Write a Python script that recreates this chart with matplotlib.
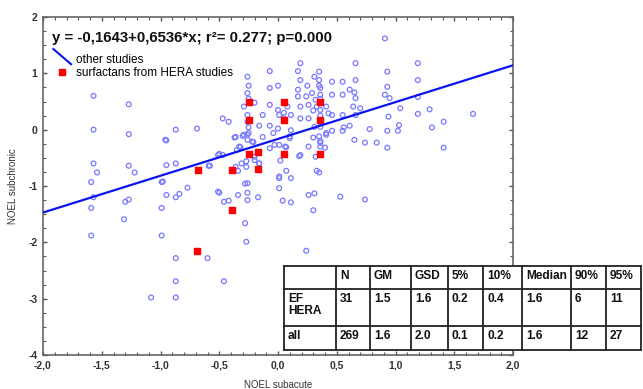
import numpy as np
import matplotlib
matplotlib.use("Agg")
import matplotlib.pyplot as plt
from matplotlib.lines import Line2D
from matplotlib.patches import Rectangle
from matplotlib.legend_handler import HandlerBase
from matplotlib.ticker import MultipleLocator, FuncFormatter

plt.rcParams['font.family'] = ['Liberation Sans', 'DejaVu Sans']

# ---------------- data ----------------
other_x = [-1.57, -1.27, -1.57, -1.27, -0.87, -0.69, -0.95, -1.57, -1.54, -1.27, -1.22, -0.87, -0.95,
           -1.59, -0.99, -1.57, -0.77, -0.95, -0.87, -0.84, -1.27, -1.30, -1.59, -0.99, -1.31, -1.59,
           -0.99, -0.87, -0.87, -1.08, -0.87,
           -0.60, -0.46, -0.28, -0.27, 0.24, 0.30, 0.26, 0.31, 0.11, 0.04, -0.17, -0.26, -0.26, -0.34,
           -0.46, -0.42, -0.50,
           -0.36, -0.30, -0.26, -0.21, -0.13, -0.04, 0.10, -0.32, -0.35, 0.01, 0.07, -0.07, -0.51, -0.47,
           -0.59, -0.20, -0.27, -0.31, -0.36, -0.27, -0.16, -0.34, 0.02, 0.07, 0.18, 0.01, -0.28, -0.51,
           0.01, 0.11,
           -0.26, -0.25, -0.26, -0.29, -0.20, -0.07, -0.07, 0.00, 0.19, 0.17, 0.19, 0.25, 0.31, 0.35,
           0.35, 0.36, 0.17, 0.17, 0.24, 0.29, 0.32, 0.26, 0.19, 0.33, 0.30, 0.36, 0.41, 0.43, 0.08,
           0.11, 0.00, 0.01, -0.07, -0.13, -0.26, -0.26, -0.25, -0.25, -0.26, -0.29, -0.22, -0.37,
           -0.33, -0.47, -0.42, -0.16, -0.07, 0.00, 0.11, 0.19, 0.26, 0.31, 0.41, 0.35, 0.26, 0.30,
           0.06, 0.10, -0.03, 0.19, -0.96, -0.58, -0.50, -0.98, -0.20, -0.16, -0.26, 0.01, 0.35, 0.32,
           0.36, 0.36, 0.36, 0.36, 0.36, 0.05, 0.05, -0.25,
           0.91, 0.66, 0.93, 0.35, 0.46, 0.55, 0.66, 0.93, 0.61, 0.55, 0.46, 0.91, 0.95, 0.66, 0.64,
           0.70, 0.46, 0.55, 1.04, 0.94, 0.66, 0.56, 0.61, 0.36,
           1.19, 1.19, 1.19, 1.19, 1.29, 1.41, 1.66, 1.31, 1.03, 1.02, 0.93, 0.78, 0.65, 0.74, 0.84,
           0.93, 1.41, 0.55, 0.46, 0.41, 0.40, 0.36, 0.33, 0.53, 0.74, 0.65]
other_y = [0.60, 0.45, 0.00, -0.08, 0.00, 0.02, -0.19, -0.60, -0.76, -0.64, -0.76, -0.60, -0.63,
           -0.93, -0.93, -1.20, -1.03, -1.16, -1.20, -1.14, -1.24, -1.28, -1.39, -1.39, -1.59, -1.88,
           -1.88, -2.28, -2.69, -2.98, -2.98,
           -2.28, -2.69, -1.66, -1.99, -2.15, -1.43, -1.16, -1.13, -1.29, -1.26, -1.20, -1.25, -1.12,
           -1.16, -1.28, -1.26, -1.12,
           -0.13, -0.11, -0.09, -0.22, -0.13, -0.06, -0.12, -0.31, -0.36, -0.27, -0.31, -0.33, -0.45,
           -0.45, -0.64, -0.48, -0.56, -0.60, -0.66, -0.66, -0.60, -0.73, -0.55, -0.73, -0.47, -0.83,
           -0.96, -1.10, -1.04, -0.86,
           0.94, 0.78, 0.65, 0.41, 0.48, 1.04, 0.74, 0.78, 1.18, 1.04, 0.88, 0.78, 0.94, 1.03,
           0.78, 0.74, 0.71, 0.59, 0.59, 0.65, 0.53, 0.44, 0.41, 0.41, 0.34, 0.35, 0.41, 0.29, 0.41,
           0.26, 0.35, 0.26, 0.44, 0.26, 0.26, 0.14, 0.04, -0.06, -0.18, -0.09, -0.21, -0.14,
           -0.30, 0.20, 0.14, 0.07, 0.07, 0.02, -0.01, 0.20, 0.20, 0.05, -0.06, -0.12, -0.30, -0.14,
           -0.30, -0.15, -0.27, -0.45, -0.18, -0.64, -0.43, -0.92, -0.54, -0.60, -0.95, -0.86, -0.76,
           -0.48,
           0.62, 0.55, 0.25, -0.20, -0.30, 0.20, 0.30, 0.55,
           1.62, 1.18, 1.03, 0.88, 0.85, 0.85, 0.88, 0.76, 0.71, 0.62, 0.62, 0.62, 0.56, 0.56, 0.41,
           0.38, 0.26, 0.26, 0.38, 0.23, 0.26, 0.04, 0.07, 0.05,
           1.18, 0.88, 0.58, 0.28, 0.36, 0.14, 0.28, 0.04, 0.08, -0.02, -0.02, 0.01, -0.18, -0.23,
           -0.23, -0.32, -0.32, -0.02, -0.02, -0.09, -0.32, -0.23, -0.73, -1.19, -1.24, 0.66]

hera_x = [-0.25, -0.25, 0.05, 0.05, 0.36, 0.36, -0.25, -0.17, 0.05, 0.36, -0.68, -0.39, -0.17,
          -0.39, -0.69]
hera_y = [0.49, 0.17, 0.49, 0.17, 0.49, 0.17, -0.44, -0.40, -0.44, -0.44, -0.72, -0.72, -0.70,
          -1.42, -2.15]

intercept = -0.1643
slope = 0.6536

table_header = ["", "N", "GM", "GSD", "5%", "10%", "Median", "90%", "95%"]
row_hera = ["EF\nHERA", "31", "1.5", "1.6", "0.2", "0.4", "1.6", "6", "11"]
row_all = ["all", "269", "1.6", "2.0", "0.1", "0.2", "1.6", "12", "27"]

# ---------------- figure ----------------
W, H = 643, 389
fig = plt.figure(figsize=(W / 100, H / 100), dpi=100)
ax = fig.add_axes([43 / W, 1 - 355 / H, 470 / W, 338 / H])

ax.scatter(other_x, other_y, s=12, marker='o', facecolors='none',
           edgecolors='#7878ff', linewidths=0.9, zorder=3)
ax.scatter(hera_x, hera_y, s=22, marker='s', color='#ff0000', zorder=4)

xl = np.array([-2.0, 2.0])
ax.plot(xl, intercept + slope * xl, color='#0a14f0', lw=1.6, zorder=5)

ax.set_xlim(-2, 2)
ax.set_ylim(-4, 2)
ax.xaxis.set_major_locator(MultipleLocator(0.5))
ax.xaxis.set_minor_locator(MultipleLocator(0.1))
ax.yaxis.set_major_locator(MultipleLocator(1))
ax.yaxis.set_minor_locator(MultipleLocator(0.25))
ax.xaxis.set_major_formatter(FuncFormatter(lambda v, p: f"{v:.1f}".replace('.', ',')))
ax.yaxis.set_major_formatter(FuncFormatter(lambda v, p: f"{v:.0f}"))
ax.tick_params(which='both', direction='in', top=True, right=True, color='#555555')
ax.tick_params(which='major', length=3, width=1, labelsize=7.5, pad=4)
ax.tick_params(which='minor', length=2, width=0.8)
for lab in ax.get_xticklabels() + ax.get_yticklabels():
    lab.set_fontweight('bold')
    lab.set_color('#333333')
for sp in ax.spines.values():
    sp.set_color('#666666')
    sp.set_linewidth(1.2)

ax.set_xlabel("NOEL subacute", fontsize=7, color='#333333')
ax.set_ylabel("NOEL subchronic", fontsize=7, color='#333333')
ax.xaxis.set_label_coords(0.5, -0.075)
ax.yaxis.set_label_coords(-0.054, 0.5)

ax.text(0.02, 0.96, "y = -0,1643+0,6536*x; r²= 0.277; p=0.000", transform=ax.transAxes,
        fontsize=10.8, fontweight='bold', va='top', ha='left', color='#111111')


class DiagHandler(HandlerBase):
    def create_artists(self, legend, orig_handle, xdescent, ydescent, width, height,
                       fontsize, trans):
        ln = Line2D([-xdescent, width - xdescent], [height - ydescent + 4, -ydescent - 1],
                    color='#0a14f0', lw=1.5, transform=trans)
        return [ln]


h_line = Line2D([], [], color='#0a14f0', lw=1.5)
h_sq = Line2D([], [], marker='s', color='#ff0000', ls='none', markersize=4.5)
ax.legend([h_line, h_sq], ["other studies", "surfactans from HERA studies"],
          handler_map={h_line: DiagHandler()}, loc='upper left',
          bbox_to_anchor=(0.012, 0.905), frameon=False, fontsize=8.5,
          handlelength=1.5, handletextpad=0.45, labelspacing=0.1, borderaxespad=0)

# ---------------- table (figure pixel layout) ----------------
col_edges = [284, 336, 370, 411, 448, 483, 522, 571, 606, 641]
row_edges = [266, 289, 326, 350]


def fx(px):
    return px / W


def fy(py):
    return 1 - py / H


fig.add_artist(Rectangle((fx(col_edges[0]), fy(row_edges[-1])),
                         fx(col_edges[-1]) - fx(col_edges[0]),
                         fy(row_edges[0]) - fy(row_edges[-1]),
                         transform=fig.transFigure, facecolor='white', edgecolor='none',
                         zorder=10))
for cx in col_edges:
    fig.add_artist(Line2D([fx(cx), fx(cx)], [fy(row_edges[0]), fy(row_edges[-1])],
                          transform=fig.transFigure, color='#222222', lw=1.3, zorder=11))
for ry in row_edges:
    fig.add_artist(Line2D([fx(col_edges[0]), fx(col_edges[-1])], [fy(ry), fy(ry)],
                          transform=fig.transFigure, color='#222222', lw=1.3, zorder=11))

for r, row in enumerate([table_header, row_hera, row_all]):
    for c, txt in enumerate(row):
        fig.text(fx(col_edges[c] + 4), fy(row_edges[r] + 4), txt, fontsize=8.6,
                 fontweight='bold', ha='left', va='top', zorder=12, linespacing=1.0,
                 color='#111111')

fig.savefig("out.png", dpi=100)
